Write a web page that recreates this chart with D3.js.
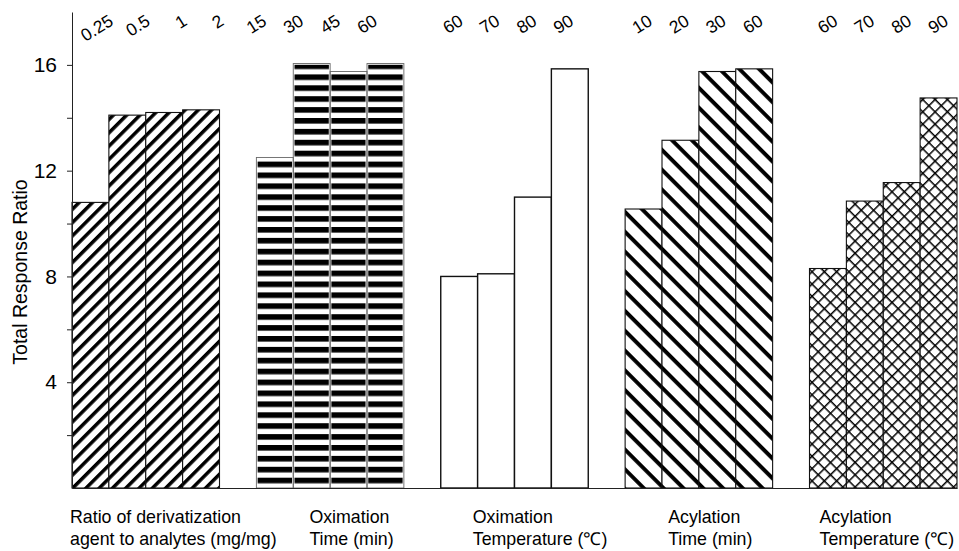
<!DOCTYPE html>
<html><head><meta charset="utf-8">
<script src="https://cdn.jsdelivr.net/npm/d3@7"></script>
<style>
body{margin:0;background:#fff}
svg{display:block}
text{font-family:"Liberation Sans",Arial,Helvetica,sans-serif;fill:#000}
</style>
</head><body><div id="chart"></div>
<script>
// ---------- data ----------
const groupNames = [
  ["Ratio of derivatization", "agent to analytes (mg/mg)"],
  ["Oximation", "Time (min)"],
  ["Oximation", "Temperature (\u2103)"],
  ["Acylation", "Time (min)"],
  ["Acylation", "Temperature (\u2103)"]
];
const ratioLevels   = ["0.25", "0.5", "1", "2"];
const oxTimeLevels  = ["15", "30", "45", "60"];
const oxTempLevels  = ["60", "70", "80", "90"];
const acTimeLevels  = ["10", "20", "30", "60"];
const acTempLevels  = ["60", "70", "80", "90"];

const ratioValues  = [10.8, 14.1, 14.2, 14.3];
const oxTimeValues = [12.5, 16.05, 15.75, 16.05];
const oxTempValues = [8.0, 8.1, 11.0, 15.85];
const acTimeValues = [10.55, 13.15, 15.75, 15.85];
const acTempValues = [8.3, 10.85, 11.55, 14.75];

const yTicks = [4, 8, 12, 16];
const yMinorTicks = [2, 6, 10, 14];

// ---------- layout ----------
const W = 959, H = 551;
const levels = [ratioLevels, oxTimeLevels, oxTempLevels, acTimeLevels, acTempLevels];
const values = [ratioValues, oxTimeValues, oxTempValues, acTimeValues, acTempValues];
const levelNudge = [24, -7, 5, 10, 11];
const groupLabelDx = [-2, 53, 32, 43, 10];

const slotKeys = [];
groupNames.forEach((g, gi) => {
  for (let j = 0; j < 4; j++) slotKeys.push(gi + "-" + j);
  if (gi < groupNames.length - 1) slotKeys.push("gap-" + gi);
});

const x = d3.scaleBand().domain(slotKeys).range([72, 957]).padding(0);
const y = d3.scaleLinear().domain([0, 18]).range([488, 12]);
const bw = x.bandwidth();

const bars = [];
values.forEach((arr, gi) => arr.forEach((v, j) => bars.push({g: gi, j, key: gi + "-" + j, value: v, label: levels[gi][j]})));

const svg = d3.select("#chart").append("svg").attr("width", W).attr("height", H);
const defs = svg.append("defs");

function stripePattern(id, s, t, angle) {
  const p = defs.append("pattern").attr("id", id).attr("patternUnits", "userSpaceOnUse")
    .attr("width", s).attr("height", s).attr("patternTransform", `rotate(${angle})`);
  p.append("rect").attr("width", s).attr("height", s).attr("fill", "#fff");
  p.append("rect").attr("width", s).attr("height", t).attr("fill", "#000");
}
stripePattern("pat0", 9.4, 3.5, -45);
(function(){
  const p = defs.append("pattern").attr("id", "pat1").attr("patternUnits", "userSpaceOnUse")
    .attr("width", 20).attr("height", 10.9).attr("y", 9);
  p.append("rect").attr("width", 20).attr("height", 10.9).attr("fill", "#fff");
  p.append("rect").attr("width", 20).attr("height", 5.6).attr("fill", "#000");
})();
stripePattern("pat3", 14, 3.9, 45);
(function(){
  const d = 8.7;
  const p = defs.append("pattern").attr("id", "pat4").attr("patternUnits", "userSpaceOnUse")
    .attr("width", d).attr("height", d).attr("patternTransform", "rotate(45)");
  p.append("rect").attr("width", d).attr("height", d).attr("fill", "#fff");
  p.append("rect").attr("width", d).attr("height", 1.5).attr("fill", "#000");
  p.append("rect").attr("width", 1.5).attr("height", d).attr("fill", "#000");
})();

const fills = ["url(#pat0)", "url(#pat1)", "#fff", "url(#pat3)", "url(#pat4)"];

const barG = svg.append("g");
barG.selectAll("rect.bar").data(bars).join("rect")
  .attr("class", "bar")
  .attr("x", d => x(d.key))
  .attr("y", d => y(d.value))
  .attr("width", bw)
  .attr("height", d => y(0) - y(d.value))
  .attr("fill", d => fills[d.g])
  .attr("stroke", d => d.g === 1 ? "#fff" : "#111")
  .attr("stroke-width", d => d.g === 1 ? 2.5 : (d.g === 2 ? 1.4 : 1.1));
barG.selectAll("rect.outl").data(bars.filter(d => d.g === 1)).join("rect")
  .attr("class", "outl")
  .attr("x", d => x(d.key))
  .attr("y", d => y(d.value))
  .attr("width", bw)
  .attr("height", d => y(0) - y(d.value))
  .attr("fill", "none").attr("stroke", "#666").attr("stroke-width", 0.9);

const yAxis = svg.append("g").attr("transform", "translate(72,0)")
  .call(d3.axisLeft(y).tickValues(yTicks).tickSize(5).tickSizeOuter(0).tickPadding(10).tickFormat(d3.format("d")));
yAxis.select(".domain").attr("stroke", "#222");
yAxis.selectAll(".tick line").attr("stroke", "#222");
yAxis.selectAll(".tick text").attr("font-size", 21).attr("font-family", "Liberation Sans, Arial, sans-serif");
const yMinor = svg.append("g").attr("transform", "translate(72,0)")
  .call(d3.axisLeft(y).tickValues(yMinorTicks).tickSize(5).tickFormat(""));
yMinor.select(".domain").remove();
yMinor.selectAll(".tick line").attr("stroke", "#222");

const xAxis = svg.append("g").attr("transform", `translate(0,${y(0)})`)
  .call(d3.axisBottom(x).tickValues([]).tickSizeOuter(0));
xAxis.select(".domain").attr("stroke", "#222");

svg.append("g").selectAll("text").data(bars).join("text")
  .attr("transform", d => `translate(${x(d.key) + bw / 2 + levelNudge[d.g]},24) rotate(-32)`)
  .attr("text-anchor", "end")
  .attr("font-size", 17.5)
  .text(d => d.label);

const gl = svg.append("g").selectAll("text").data(groupNames).join("text")
  .attr("font-size", 17.8);
gl.each(function(d, i) {
  const t = d3.select(this);
  d.forEach((line, k) => {
    t.append("tspan").attr("x", x(i + "-0") + groupLabelDx[i]).attr("y", 523 + k * 22).text(line);
  });
});

svg.append("text")
  .attr("transform", "translate(27,272) rotate(-90)")
  .attr("text-anchor", "middle")
  .attr("font-size", 19.5)
  .text("Total Response Ratio");
</script></body></html>
